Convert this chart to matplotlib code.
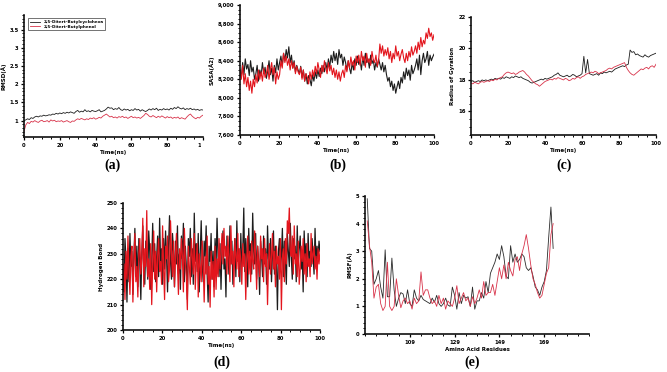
import matplotlib

matplotlib.use("Agg")
import matplotlib.pyplot as plt  # noqa: E402
import numpy as np  # noqa: E402
from matplotlib.patches import Rectangle  # noqa: E402
from matplotlib.ticker import AutoMinorLocator, MultipleLocator, FuncFormatter  # noqa: E402

BLACK = "#1c1c1c"
RED = "#e3151d"
PINK = "#d8334a"
LEGEND_LABELS = ["2,5-Ditert-Butylcyclohexa", "2,5-Ditert-Butylphenol"]

# (a) RMSD, 0-100 ns
rmsd_black = [1.00, 1.02, 1.05, 1.03, 1.08, 1.06, 1.10, 1.12, 1.10, 1.13, 1.12, 1.15, 1.13, 1.14, 1.16,
              1.15, 1.18, 1.17, 1.20, 1.18, 1.21, 1.19, 1.22, 1.20, 1.23, 1.21, 1.24, 1.22, 1.20, 1.25,
              1.28, 1.23, 1.26, 1.24, 1.30, 1.25, 1.27, 1.24, 1.28, 1.26, 1.25, 1.27, 1.30, 1.24, 1.26,
              1.28, 1.32, 1.37, 1.34, 1.35, 1.30, 1.33, 1.31, 1.36, 1.30, 1.28, 1.32, 1.29, 1.31, 1.27,
              1.30, 1.28, 1.33, 1.29, 1.31, 1.26, 1.30, 1.27, 1.25, 1.28, 1.32, 1.29, 1.33, 1.30, 1.34,
              1.28, 1.31, 1.29, 1.33, 1.30, 1.32, 1.29, 1.34, 1.31, 1.36, 1.33, 1.38, 1.34, 1.32, 1.35,
              1.30, 1.33, 1.31, 1.34, 1.30, 1.32, 1.29, 1.31, 1.28, 1.30, 1.29]
rmsd_red = [0.70, 0.88, 0.95, 0.92, 0.98, 0.96, 1.00, 0.97, 0.95, 0.99, 1.01, 0.97, 0.98, 1.00, 0.96,
            1.02, 0.99, 1.01, 0.97, 0.99, 0.98, 1.00, 0.96, 0.98, 1.00, 0.97, 0.95, 0.99, 0.98, 1.02,
            1.05, 1.03, 1.06, 1.04, 1.02, 1.05, 1.03, 1.07, 1.05, 1.08, 1.04, 1.06, 1.09, 1.07, 1.12,
            1.15, 1.18, 1.14, 1.10, 1.12, 1.08, 1.10, 1.07, 1.11, 1.09, 1.12, 1.08, 1.10, 1.06, 1.09,
            1.12, 1.08, 1.10, 1.07, 1.09, 1.06, 1.10, 1.14, 1.20, 1.17, 1.12, 1.10, 1.14, 1.11, 1.08,
            1.12, 1.09, 1.13, 1.10, 1.07, 1.11, 1.08, 1.10, 1.06, 1.09, 1.07, 1.10, 1.05, 1.08, 1.06,
            1.04, 1.10, 1.15, 1.18, 1.12, 1.08, 1.05, 1.09, 1.07, 1.12, 1.15]

# (b) SASA
sasa_black = [8300, 8220, 8380, 8250, 8420, 8310, 8360, 8240, 8400, 8280, 8330, 8200, 8260, 8350, 8180,
              8300, 8240, 8380, 8260, 8330, 8210, 8290, 8400, 8250, 8320, 8180, 8350, 8270, 8420, 8300,
              8380, 8450, 8340, 8480, 8400, 8520, 8430, 8550, 8380, 8460, 8320, 8400, 8280, 8350, 8300,
              8260, 8340, 8220, 8300, 8180, 8260, 8150, 8240, 8200, 8130, 8250, 8180, 8280, 8210, 8300,
              8230, 8320, 8260, 8350, 8280, 8380, 8300,
              8420, 8330, 8460, 8380, 8500, 8400, 8480, 8360, 8520, 8430, 8470, 8350, 8440, 8380, 8300,
              8400, 8320, 8260, 8380, 8300, 8420, 8350,
              8450, 8360, 8400, 8300, 8440, 8350, 8480, 8380, 8420, 8320, 8460, 8370, 8410, 8300, 8380,
              8330, 8420, 8360, 8300, 8380, 8280, 8350,
              8250, 8180, 8220, 8120, 8180, 8080, 8150, 8050, 8120, 8180, 8100, 8220, 8160, 8280, 8200,
              8320, 8240, 8300, 8190, 8350, 8260, 8300,
              8350, 8420, 8300, 8460, 8250, 8400, 8480, 8380, 8420, 8500, 8350, 8460, 8400, 8440, 8470]
sasa_red = [8300, 8200, 8350, 8150, 8260, 8120, 8220, 8080, 8180, 8050, 8200, 8120, 8250, 8160, 8300,
            8200, 8280, 8180, 8320, 8220, 8260, 8350, 8200, 8300, 8380, 8250, 8330, 8150, 8280, 8200,
            8250, 8400, 8320, 8480, 8380, 8450, 8350, 8420, 8300, 8400, 8320, 8380, 8260, 8340, 8280,
            8250, 8330, 8200, 8300, 8180, 8260, 8220, 8150, 8280, 8200, 8300, 8230, 8340, 8260, 8380,
            8300, 8220, 8350, 8280, 8400, 8320, 8260,
            8380, 8290, 8350, 8250, 8320, 8220, 8300, 8200, 8280, 8180, 8260, 8300, 8220, 8350, 8280,
            8400, 8320, 8440, 8350, 8400, 8300, 8450,
            8380, 8460, 8350, 8500, 8400, 8450, 8330, 8480, 8380, 8420, 8350, 8500, 8410, 8380, 8460,
            8340, 8400, 8580, 8480, 8560, 8450, 8520,
            8460, 8540, 8420, 8500, 8380, 8480, 8420, 8560, 8450, 8500, 8400, 8470, 8520, 8430, 8380,
            8480, 8400, 8500, 8440, 8550, 8460, 8500,
            8560, 8480, 8600, 8520, 8650, 8550, 8620, 8580, 8700, 8640, 8750, 8660, 8700, 8620, 8680]

# (c) Radius of gyration
rg_black = [17.9, 17.95, 17.85, 17.9, 17.95, 17.9, 18.0, 17.95, 18.0, 17.95, 18.0, 18.05, 18.0, 18.1,
            18.05, 18.1, 18.05, 18.15, 18.1, 18.2, 18.15, 18.1, 18.2, 18.15, 18.25, 18.2, 18.15, 18.2,
            18.1, 18.05, 18.0, 17.95, 17.85, 17.8, 17.85, 17.9, 17.95, 18.0, 18.05, 18.0, 18.1, 18.05,
            18.1, 18.15, 18.2, 18.3, 18.35, 18.45, 18.3, 18.25, 18.2, 18.25, 18.3, 18.2, 18.25, 18.35,
            18.3, 18.2, 18.25, 18.3, 18.4, 19.5, 18.45, 19.3, 18.4, 18.35, 18.3, 18.35, 18.4, 18.3,
            18.45, 18.4, 18.5, 18.45, 18.5, 18.55, 18.5, 18.6, 18.7, 18.75, 18.8, 18.85, 18.9, 18.85,
            18.95, 19.0, 19.9, 19.75, 19.8, 19.6, 19.65, 19.55, 19.5, 19.45, 19.6, 19.5, 19.45, 19.55,
            19.6, 19.65, 19.7]
rg_red = [17.8, 17.75, 17.85, 17.8, 17.75, 17.85, 17.9, 17.85, 17.9, 17.95, 17.9, 18.0, 17.95, 18.05,
          18.0, 18.1, 18.15, 18.2, 18.35, 18.45, 18.5, 18.45, 18.4, 18.45, 18.35, 18.4, 18.5, 18.55,
          18.6, 18.5, 18.35, 18.25, 18.1, 17.95, 17.85, 17.75, 17.7, 17.6, 17.7, 17.8, 17.9, 17.95,
          18.0, 18.05, 18.0, 18.1, 18.05, 18.15, 18.1, 18.05, 18.0, 18.1, 18.05, 17.95, 18.0, 18.1,
          18.05, 18.15, 18.2, 18.1, 18.2, 18.25, 18.35, 18.4, 18.45, 18.5, 18.45, 18.55, 18.5, 18.4,
          18.45, 18.5, 18.55, 18.6, 18.7, 18.75, 18.7, 18.8, 18.85, 18.9, 18.95, 19.0, 19.05, 19.1,
          18.8, 18.6, 18.45, 18.35, 18.3, 18.4, 18.5, 18.6, 18.7, 18.65, 18.75, 18.8, 18.7, 18.85,
          18.9, 18.8, 19.0]

# (d) Hydrogen bonds
hb_black = [222, 215, 236, 228, 211, 232, 219, 238, 225, 231, 214, 229, 240, 221, 233, 217, 236, 226, 212, 230,
            241, 224, 218, 235, 228, 220, 239, 231, 216, 227, 242, 223, 234, 219, 229, 237, 221, 244, 226, 232,
            218, 236, 224, 239, 229, 215, 233, 245, 227, 220, 238, 231, 217, 235, 226, 241, 222, 230, 216, 237,
            228, 242, 219, 233, 225, 212, 236, 229, 240, 221, 232, 218, 246, 227, 234, 223, 238, 215, 230, 243,
            226, 219, 235, 229, 241, 222, 211, 233, 227, 238, 220, 231, 217, 236, 225, 244, 229, 221, 234, 216,
            232, 239, 224, 228, 213, 237, 230, 222, 241, 226, 235, 218, 229, 236, 221, 243, 227, 232, 219, 238,
            225, 231, 248, 223, 236, 228, 217, 240, 229, 234, 222, 246, 231, 226, 238, 220, 233, 227, 214, 235,
            229, 221, 237, 226, 232, 218, 241, 228, 224, 236, 219, 230, 239, 222, 233, 227, 208, 231, 236, 224,
            229, 240, 221, 235, 227, 218, 238, 231, 225, 242, 229, 220, 236, 228, 233, 219, 241, 226, 232, 237,
            224, 230, 215, 239, 228, 234, 221, 238, 227, 231, 225, 236, 229, 222, 240, 226, 233, 228, 235, 231]
hb_red = [218, 226, 212, 231, 220, 237, 224, 214, 229, 233, 211, 227, 238, 219, 225, 213, 230, 236, 222, 228,
          244, 217, 232, 225, 247, 221, 228, 216, 234, 210, 226, 239, 220, 231, 215, 229, 236, 223, 227, 218,
          241, 225, 212, 233, 228, 237, 219, 224, 243, 230, 221, 235, 217, 229, 238, 226, 214, 232, 224, 236,
          229, 215, 240, 227, 221, 208, 233, 225, 218, 236, 229, 222, 238, 216, 227, 234, 213, 230, 225, 219,
          235, 226, 211, 229, 222, 237, 218, 225, 209, 231, 220, 227, 213, 233, 216, 228, 221, 236, 224, 230,
          238, 226, 240, 229, 233, 222, 237, 228, 219, 241, 226, 231, 217, 236, 229, 224, 238, 221, 232, 227,
          218, 234, 225, 230, 212, 228, 237, 222, 231, 219, 235, 227, 224, 239, 229, 216, 233, 226, 221, 237,
          228, 232, 219, 236, 225, 230, 210, 227, 234, 222, 229, 238, 224, 231, 217, 233, 226, 229, 220, 236,
          208, 228, 232, 219, 236, 226, 243, 238, 248, 231, 229, 237, 222, 241, 226, 230, 221, 235, 218, 224,
          233, 227, 236, 222, 230, 219, 234, 225, 228, 221, 238, 226, 230, 233, 224, 229, 220, 232, 226, 231]

# (e) RMSF per residue
residues = list(range(90, 174))
rmsf_black = [4.9, 3.1, 3.0, 1.8, 2.0, 2.3, 1.7, 1.3, 3.05, 1.35, 1.35, 2.75, 1.6, 1.0, 1.3, 1.5, 1.45, 1.1,
              1.6, 1.1, 1.0, 1.6, 1.3, 1.2, 1.4, 1.25, 1.2, 1.15, 1.1, 1.3, 1.15, 1.4, 1.1, 1.0, 1.1, 1.3,
              1.05, 1.0, 1.7, 1.4, 0.9, 1.5, 1.1, 1.4, 1.3, 1.35, 1.0, 1.7, 0.9, 1.2, 1.2, 1.5, 1.3, 1.9,
              1.5, 2.2, 2.4, 2.6, 2.9, 2.7, 3.2, 2.8, 2.1, 2.0, 3.2, 2.6, 2.9, 2.6, 2.7, 2.9, 2.8, 2.4,
              2.3, 2.4, 2.1, 1.7, 1.6, 1.4, 1.7, 1.9, 2.3, 3.5, 4.6, 3.1]
rmsf_red = [4.1, 3.2, 2.6, 1.3, 1.7, 1.8, 1.1, 0.85, 1.0, 2.6, 1.0, 0.85, 1.0, 2.0, 1.4, 0.95, 1.2, 1.3,
            1.1, 1.2, 0.9, 1.3, 1.1, 1.2, 2.25, 1.4, 1.6, 1.6, 1.3, 1.1, 1.2, 1.0, 1.4, 1.1, 1.3, 0.9,
            1.2, 1.1, 1.0, 1.3, 1.75, 1.1, 1.3, 1.5, 1.2, 1.3, 1.0, 1.35, 1.1, 1.3, 1.6, 1.3, 1.9, 1.4,
            1.5, 1.5, 1.8, 1.4, 1.9, 2.4, 2.0, 2.5, 2.0, 2.6, 2.3, 2.1, 2.7, 2.8, 2.3, 2.9, 3.2, 3.6,
            3.1, 2.5, 2.0, 1.8, 1.5, 1.3, 1.4, 1.8, 2.2, 2.4, 3.6, 4.0]

W, H = 667, 372


def px_axes(fig, left, right, top, bottom):
    return fig.add_axes([left / W, 1 - bottom / H, (right - left) / W, (bottom - top) / H])


def style_axes(ax, xlabel, ylabel):
    for side in ("top", "right"):
        ax.spines[side].set_visible(False)
    for side in ("left", "bottom"):
        ax.spines[side].set_linewidth(1.2)
        ax.spines[side].set_color("#111111")
    ax.tick_params(which="major", direction="out", length=2.5, width=0.9, labelsize=3.8, pad=1.5)
    ax.tick_params(which="minor", direction="out", length=1.5, width=0.7)
    for lbl in ax.get_xticklabels() + ax.get_yticklabels():
        lbl.set_fontweight("bold")
    ax.set_xlabel(xlabel, fontsize=4, fontweight="bold", labelpad=2)
    ax.set_ylabel(ylabel, fontsize=4, fontweight="bold", labelpad=2)


def time_axis(n):
    return np.linspace(0, 100, n)


fig = plt.figure(figsize=(W / 100, H / 100), dpi=100)
fig.patch.set_facecolor("white")

# (a)
ax_a = px_axes(fig, 24, 203, 15, 137)
ax_a.plot(time_axis(len(rmsd_black)), rmsd_black, color=BLACK, lw=0.6, label=LEGEND_LABELS[0])
ax_a.plot(time_axis(len(rmsd_red)), rmsd_red, color=PINK, lw=0.6, label=LEGEND_LABELS[1])
ax_a.set_xlim(0, 100)
ax_a.set_ylim(0.55, 3.9)
ax_a.xaxis.set_major_locator(MultipleLocator(20))
ax_a.yaxis.set_major_locator(MultipleLocator(0.5))
ax_a.xaxis.set_minor_locator(AutoMinorLocator(4))
ax_a.yaxis.set_minor_locator(AutoMinorLocator(5))
ax_a.yaxis.set_major_formatter(FuncFormatter(lambda v, p: f"{v:g}" if v >= 1 else ""))
style_axes(ax_a, "Time(ns)", "RMSD(Å)")
leg = ax_a.legend(loc="upper left", fontsize=3.0, frameon=True, fancybox=False,
                  borderpad=0.4, handlelength=2.5, labelspacing=0.2,
                  bbox_to_anchor=(0.01, 0.99))
leg.get_frame().set_edgecolor("#333333")
leg.get_frame().set_linewidth(0.6)
for t in leg.get_texts():
    t.set_fontweight("bold")

# (b)
ax_b = px_axes(fig, 240, 434, 5, 135)
ax_b.plot(time_axis(len(sasa_black)), sasa_black, color=BLACK, lw=0.8)
ax_b.plot(time_axis(len(sasa_red)), sasa_red, color=RED, lw=0.8)
ax_b.set_xlim(0, 100)
ax_b.set_ylim(7600, 9000)
ax_b.xaxis.set_major_locator(MultipleLocator(20))
ax_b.yaxis.set_major_locator(MultipleLocator(200))
ax_b.xaxis.set_minor_locator(AutoMinorLocator(4))
ax_b.yaxis.set_minor_locator(AutoMinorLocator(4))
ax_b.yaxis.set_major_formatter(FuncFormatter(lambda v, p: f"{v:,.0f}"))
style_axes(ax_b, "Time(ns)", "SASA(Å2)")

# (c)
ax_c = px_axes(fig, 471, 656, 17, 135)
ax_c.plot(time_axis(len(rg_black)), rg_black, color=BLACK, lw=0.6)
ax_c.plot(time_axis(len(rg_red)), rg_red, color=PINK, lw=0.6)
ax_c.set_xlim(0, 100)
ax_c.set_ylim(14.5, 22)
ax_c.xaxis.set_major_locator(MultipleLocator(20))
ax_c.yaxis.set_major_locator(MultipleLocator(2))
ax_c.xaxis.set_minor_locator(AutoMinorLocator(4))
ax_c.yaxis.set_minor_locator(AutoMinorLocator(4))
ax_c.yaxis.set_major_formatter(FuncFormatter(lambda v, p: f"{v:g}" if v >= 16 else ""))
style_axes(ax_c, "Time(ns)", "Radius of Gyration")

# (d)
ax_d = px_axes(fig, 123, 320, 203, 330)
ax_d.plot(time_axis(len(hb_black)), hb_black, color=BLACK, lw=0.9)
ax_d.plot(time_axis(len(hb_red)), hb_red, color=RED, lw=0.9)
ax_d.set_xlim(0, 100)
ax_d.set_ylim(200, 250)
ax_d.xaxis.set_major_locator(MultipleLocator(20))
ax_d.yaxis.set_major_locator(MultipleLocator(10))
ax_d.xaxis.set_minor_locator(AutoMinorLocator(4))
ax_d.yaxis.set_minor_locator(AutoMinorLocator(5))
style_axes(ax_d, "Time(ns)", "Hydrogen Bond")

# (e)
ax_e = px_axes(fig, 365, 589, 196, 334)
ax_e.plot(residues, rmsf_black, color="#2a2a2a", lw=0.6)
ax_e.plot(residues, rmsf_red, color=PINK, lw=0.6)
ax_e.set_xlim(89, 189)
ax_e.set_ylim(0, 5)
ax_e.set_xticks([109, 129, 149, 169])
ax_e.xaxis.set_minor_locator(MultipleLocator(5, offset=4))
ax_e.yaxis.set_major_locator(MultipleLocator(1))
ax_e.yaxis.set_minor_locator(AutoMinorLocator(5))
style_axes(ax_e, "Amino Acid Residues", "RMSF(Å)")

# panel letters
for x, y, s in [(113, 165, "(a)"), (338, 165, "(b)"), (564, 165, "(c)"),
                (222, 362, "(d)"), (472, 362, "(e)")]:
    fig.text(x / W, 1 - y / H, s, ha="center", va="center", fontsize=10,
             fontweight="bold", family="Liberation Serif")

# the (a) panel was cropped at its right edge in the original layout
fig.add_artist(Rectangle((201 / W, 1 - 156 / H), 14 / W, 15 / H, transform=fig.transFigure,
                         facecolor="white", edgecolor="none", zorder=10))

fig.savefig("out.png", dpi=100, facecolor="white")
